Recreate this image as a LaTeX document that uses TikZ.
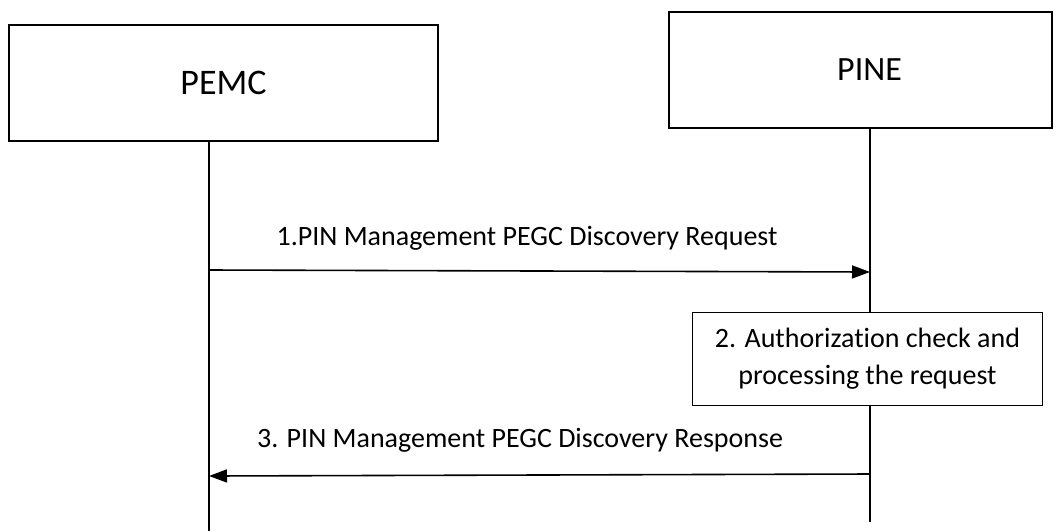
\documentclass[tikz,border=0pt]{standalone}
\usepackage{fontspec}
\setmainfont{Carlito}[Ligatures=NoCommon]
\usetikzlibrary{arrows.meta}
\tikzset{
  entity/.style={draw, line width=1.6pt, fill=white, minimum width=#1, minimum height=116pt, inner sep=0pt},
  procbox/.style={draw, line width=1.6pt, fill=white, minimum width=350pt, minimum height=93pt, inner sep=0pt, align=center, font=\fontsize{28}{37}\selectfont},
  lifeline/.style={line width=1.6pt},
  msg/.style={line width=1.6pt, -{Triangle[length=18pt,width=13pt]}},
  msglabel/.style={font=\fontsize{28}{34}\selectfont, inner sep=0pt}
}
\begin{document}
\begin{tikzpicture}[x=1pt,y=-1pt]
\useasboundingbox (0,0) rectangle (1062,531);
% lifelines
\coordinate (pemcEnd) at (209,531);
\coordinate (pineEnd) at (870,522);
\node[entity=429pt, font=\fontsize{36}{42}\selectfont] (pemc) at (223.5,83) {PEMC};
\node[entity=383pt, font=\fontsize{34}{40}\selectfont] (pine) at (860.5,70) {\hspace*{18pt}PINE};
\coordinate (pemcTop) at (209,141);
\coordinate (pineTop) at (870,128);
\draw[lifeline] (pemcTop) -- (pemcEnd);
\draw[lifeline] (pineTop) -- (pineEnd);
% step 2 box
\node[procbox] (auth) at (867.5,359) {2. Authorization check and\\processing the request};
% message 1
\coordinate (m1s) at (209,270);
\coordinate (m1e) at (870,272);
\draw[msg] (m1s) -- (m1e);
\node[msglabel] (l1) at (527,238) {1.PIN Management PEGC Discovery Request};
% message 3
\coordinate (m3s) at (870,474);
\coordinate (m3e) at (209,476);
\draw[msg] (m3s) -- (m3e);
\node[msglabel] (l3) at (520,440) {3. PIN Management PEGC Discovery Response};
\end{tikzpicture}
\end{document}
